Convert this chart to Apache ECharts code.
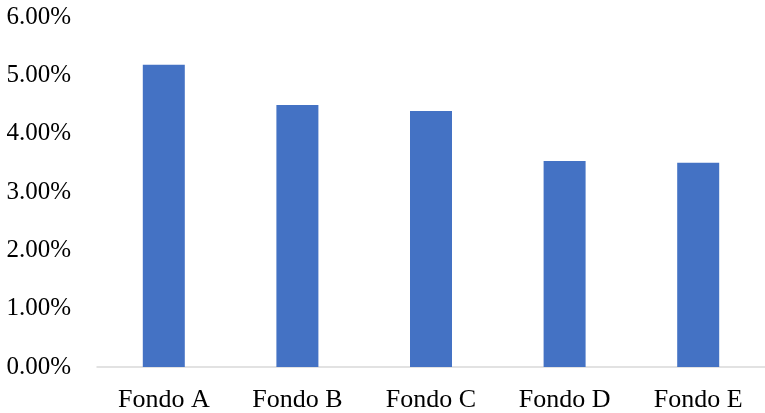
<!DOCTYPE html>
<html>
<head>
<meta charset="utf-8">
<script src="https://cdn.jsdelivr.net/npm/echarts@6/dist/echarts.min.js"></script>
<style>
  html, body { margin: 0; padding: 0; background: #fff; }
  #chart { width: 765px; height: 413px; }
</style>
</head>
<body>
<div id="chart"></div>
<script>
// Fund returns, in percent
const categories = ['Fondo A', 'Fondo B', 'Fondo C', 'Fondo D', 'Fondo E'];
const returns = [5.18, 4.49, 4.39, 3.53, 3.50];
const yTicks = [0, 1, 2, 3, 4, 5, 6];

const font = '"Liberation Serif", "Times New Roman", serif';
const chart = echarts.init(document.getElementById('chart'));
chart.setOption({
  animation: false,
  grid: { left: 97, right: 0, top: 17, bottom: 46 },
  xAxis: {
    type: 'category',
    data: categories,
    axisLine: { lineStyle: { color: '#d9d9d9', width: 1.5 } },
    axisTick: { show: false },
    axisLabel: { color: '#000', fontFamily: font, fontSize: 26, margin: 20 }
  },
  yAxis: {
    type: 'value',
    min: yTicks[0],
    max: yTicks[yTicks.length - 1],
    interval: 1,
    splitLine: { show: false },
    axisLine: { show: false },
    axisTick: { show: false },
    axisLabel: {
      color: '#000', fontFamily: font, fontSize: 25, margin: 26,
      formatter: v => v.toFixed(2) + '%'
    }
  },
  series: [{
    type: 'bar',
    data: returns,
    barWidth: 42,
    itemStyle: { color: '#4472C4' }
  }]
});
</script>
</body>
</html>
